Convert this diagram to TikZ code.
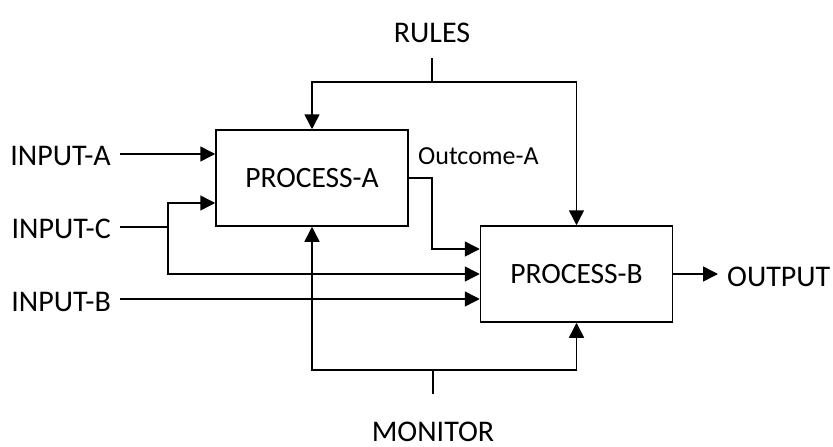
\documentclass[tikz,border=0pt]{standalone}
\usepackage{fontspec}
\setmainfont{Carlito}
\usetikzlibrary{arrows.meta}
\begin{document}
\begin{tikzpicture}[x=1pt,y=-1pt,
  proc/.style={draw, line width=1.5pt, minimum width=192pt, minimum height=96pt, inner sep=0pt, font=\fontsize{29.5}{34}\selectfont},
  lbl/.style={inner sep=0pt, font=\fontsize{30}{34}\selectfont},
  small/.style={inner sep=0pt, font=\fontsize{26}{30}\selectfont},
  conn/.style={line width=1.5pt},
  arr/.style={conn, -{Triangle[length=15pt,width=15pt]}}]
\useasboundingbox (0,0) rectangle (833,447);
\node[proc] (A) at (312,178) {PROCESS-A};
\node[proc] (B) at (576.5,274) {PROCESS-B};
\node[lbl] (rules) at (432,33) {RULES};
\node[lbl, anchor=base] (monitor) at (433,441) {MONITOR};
\node[lbl, anchor=base east] (ina) at (111,165) {INPUT-A};
\node[lbl, anchor=base east] (inc) at (111,238) {INPUT-C};
\node[lbl, anchor=base east] (inb) at (111,311) {INPUT-B};
\node[lbl, anchor=west] (out) at (727,277) {OUTPUT};
\node[small, anchor=west] (oc) at (418,156) {Outcome-A};
\coordinate (rt) at (432,58);
\coordinate (rj) at (432,82);
\coordinate (mt) at (433,394);
\coordinate (mj) at (433,370);
\coordinate (outend) at (718,274);
% rules
\draw[conn] (rt) -- (rj);
\draw[arr] (rj) -| (A.north);
\draw[arr] (rj) -| (B.north);
% monitor
\draw[conn] (mt) -- (mj);
\draw[arr] (mj) -| (A.south);
\draw[arr] (mj) -| (B.south);
% inputs
\draw[arr] (120,154) -- (A.west |- 0,154);
\draw[conn] (120,227) -- (168,227);
\draw[arr] (168,227) |- (A.west |- 0,203);
\draw[arr] (168,227) |- (B.west |- 0,274);
\draw[arr] (120,299) -- (B.west |- 0,299);
% outcome
\draw[arr] (A.east |- 0,178) -| (432,249) -- (B.west |- 0,249);
% output
\draw[arr] (B.east) -- (outend);
\end{tikzpicture}
\end{document}
